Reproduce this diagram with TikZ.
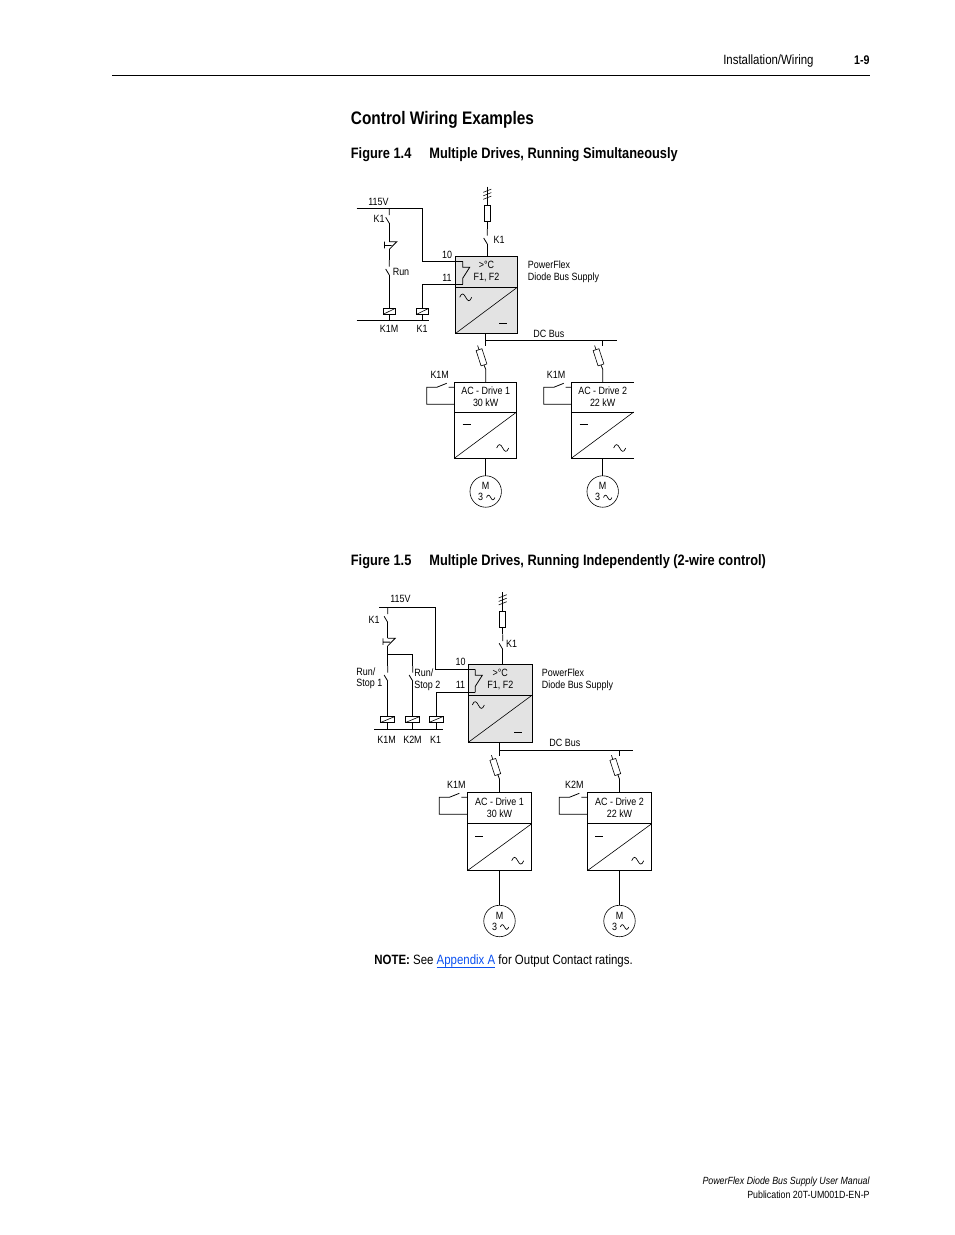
\documentclass[tikz,border=0pt]{standalone}
\usepackage{fontspec}
\setmainfont[FakeStretch=0.85]{Liberation Sans}
\usetikzlibrary{calc}
\definecolor{boxgrey}{gray}{0.89}
\definecolor{linkblue}{HTML}{0A50F0}

\tikzset{
	lab/.style={inner sep=0pt,font=\fontsize{7.9}{9}\selectfont,align=center},
	pagetxt/.style={inner sep=0pt,font=\fontsize{10.1}{12}\selectfont},
	capline/.style={inner sep=0pt,anchor=west,font=\fontsize{11.3}{13}\selectfont\bfseries},
	unitbox/.style={inner sep=0pt,outer sep=0pt,anchor=north west},
	fusebox/.style={draw,fill=white,inner sep=0pt,outer sep=0pt,line width=0.45pt,minimum width=4.6pt,minimum height=12pt},
	coilbox/.style={draw,fill=white,inner sep=0pt,outer sep=0pt,minimum width=9pt,minimum height=4.4pt},
	motor/.style={draw,circle,inner sep=0pt,outer sep=0pt,line width=0.45pt,minimum size=23.6pt},
	tilde/.pic={\draw[line width=0.5pt] (-6,0) .. controls (-4,-5) and (-2,-4) .. (0,0) .. controls (2,4) and (4,5) .. (6,0);},
	nocontact/.pic={\draw (0,0) -- (0,6.7) (-3.6,9) -- (0,15);},
	pushb/.pic={\draw (0,0) -- (7.5,0) -- (0,7.6) (-4.8,0) -- (-4.8,6.6) (-4.8,3.8) -- (2.4,3.8);},
}

\begin{document}
\begin{tikzpicture}[x=0.75pt,y=-0.75pt,line width=0.6pt]
	\useasboundingbox (0,0) rectangle (954,1235);

	% page text
	\coordinate (ruleL) at (112,75.5);
	\coordinate (ruleR) at (870,75.5);
	\draw[line width=0.9pt] (ruleL) -- (ruleR);
	\node (head) [pagetxt,anchor=east] at (814,61.5) {Installation/Wiring};
	\node (folio) [pagetxt,anchor=east,font=\fontsize{9.4}{11}\selectfont\bfseries] at (870,60.5) {1-9};
	\node (title) [capline,font=\fontsize{13.6}{16}\selectfont\bfseries] at (350.5,119.5) {Control Wiring Examples};
	\node (figA) [capline] at (350.5,155) {Figure 1.4};
	\node (figAtxt) [capline] at (429,155) {Multiple Drives, Running Simultaneously};
	\node (figB) [capline] at (350.5,561.7) {Figure 1.5};
	\node (figBtxt) [capline] at (429,561.7) {Multiple Drives, Running Independently (2-wire control)};
	\node (note) [pagetxt,anchor=west] at (374,961.5) {\textbf{NOTE:} See \textcolor{linkblue}{\underline{\smash{Appendix A}}} for Output Contact ratings.};
	\node (footA) [pagetxt,anchor=east,font=\fontsize{7.8}{9}\selectfont\itshape] at (870,1181.5) {PowerFlex Diode Bus Supply User Manual};
	\node (footB) [pagetxt,anchor=east,font=\fontsize{7.8}{9}\selectfont] at (870,1194.5) {Publication 20T-UM001D-EN-P};

	% diode bus supplies
	\foreach \nm/\xl/\bw/\ty/\bh/\lh/\fx/\iy/\uy/\ky in {
		s1/455.7/61.6/256.3/31/46/487.3/186.7/212.9/229,
		s2/468.3/64/664.3/30.7/47.3/502.7/592.3/619.5/634.3}{
		\node (\nm-top) [lab,unitbox,draw,fill=boxgrey,minimum width=\bw*0.75pt,minimum height=\bh*0.75pt] at (\xl,\ty) {>°C\\F1, F2};
		\node (\nm-conv) [unitbox,draw,fill=boxgrey,minimum width=\bw*0.75pt,minimum height=\lh*0.75pt] at (\nm-top.south west) {};
		\draw[line width=0.45pt] (\nm-conv.south west) -- (\nm-conv.north east);
		\pic at ($(\nm-conv.north west)+(10,10)$) {tilde};
		\draw ($(\nm-conv.south east)+(-18,-9.5)$) -- ++(8,0);
		\coordinate (\nm-in) at (\fx,\iy);
		\node (\nm-fu) [fusebox] at (\fx,\uy) {};
		\coordinate (\nm-kc) at (\fx,\ky);
		\coordinate (\nm-ke) at ($(\nm-kc)+(0,15)$);
		\draw (\nm-in) -- (\nm-fu) (\nm-fu) -- (\nm-kc) (\nm-ke) -- (\nm-ke |- \nm-top.north);
		\pic at (\nm-kc) {nocontact};
		\foreach \tk in {4,7.5,11}{
			\draw[line width=0.45pt] ($(\nm-in)+(-4,\tk+1.6)$) -- ++(8,-3.2);
		}
		\coordinate (\nm-10) at ($(\nm-top.north west)+(7,5)$);
		\coordinate (\nm-11) at ($(\nm-top.north west)+(7,28)$);
		\draw (\nm-10) -- ++(0,6) -- ++(7,0) -- ++(-7,11) -- (\nm-11);
	}

	% drives
	\foreach \nm/\xl/\bw/\ty/\bh/\lh/\by/\my/\dn/\kw/\kt/\kx in {
		a1/454.7/62/382.3/29.7/46/340.3/33.5/1/30/K1M/-15,
		a2/571.7/62/382.3/29.7/46/340.3/33.5/2/22/K1M/-15.7,
		b1/467.3/64.4/792.3/31.4/47/750/50.3/1/30/K1M/-11,
		b2/587.3/64.4/792.3/31.4/47/750/50.3/2/22/K2M/-13}{
		\node (\nm-top) [lab,unitbox,minimum width=\bw*0.75pt,minimum height=\bh*0.75pt] at (\xl,\ty) {AC - Drive \dn\\\kw{} kW};
		\node (\nm-conv) [unitbox,minimum width=\bw*0.75pt,minimum height=\lh*0.75pt] at (\nm-top.south west) {};
		\draw (\nm-top.north east) -- (\nm-top.north west) -- (\nm-conv.south west) -- (\nm-conv.south east);
		\draw (\nm-conv.north west) -- (\nm-conv.north east);
		\draw[line width=0.45pt] (\nm-conv.south west) -- (\nm-conv.north east);
		\draw ($(\nm-conv.north west)+(8,12.5)$) -- ++(8,0);
		\pic at ($(\nm-conv.south east)+(-14,-10)$) {tilde};
		% fuse from the bus
		\coordinate (\nm-bus) at (\nm-top.north |- 0,\by);
		\coordinate (\nm-joint) at ($(\nm-bus)+(0,29)$);
		\node (\nm-fu) [fusebox,rotate=18] at ($(\nm-joint)+(-4.2,-12)$) {};
		\draw (\nm-bus) -- ++(0,6);
		\draw[line width=0.45pt] (\nm-fu.north) -- ++(-1.4,-4.2);
		\draw (\nm-fu.south) -- (\nm-joint) -- (\nm-top.north);
		% run contact
		\node (\nm-kl) [lab] at ($(\nm-top.north west)+(\kx,-7)$) {\kt};
		\draw (\nm-top.north west) ++(0,5) -- ++(-6,0) ++(-2,-4) -- ++(-10,4) -- ++(-10,0) -- ++(0,17) -- ++(28,0);
		% motor
		\node (\nm-mot) [motor] at ($(\nm-conv.south)+(0,\my)$) {};
		\draw (\nm-conv.south) -- (\nm-mot);
		\node (\nm-mm) [lab] at ($(\nm-mot)+(0,-5.5)$) {M};
		\node (\nm-m3) [lab] at ($(\nm-mot)+(-5,5.5)$) {3};
		\pic[scale=0.7] at ($(\nm-mot)+(5,6)$) {tilde};
	}
	\foreach \nm in {a1,b1,b2}{
		\draw (\nm-top.north east) -- (\nm-conv.south east);
	}

	% dc bus
	\coordinate (s1-bus) at (485.7,340.3);
	\coordinate (s1-end) at (616.7,340.3);
	\coordinate (s2-bus) at (499.5,750);
	\coordinate (s2-end) at (632.7,750);
	\draw (s1-bus |- s1-conv.south) -- (s1-bus) -- (s1-end);
	\draw (s2-bus |- s2-conv.south) -- (s2-bus) -- (s2-end);

	% control wiring, figure 1.4
	\coordinate (a-l) at (356.7,208.3);
	\coordinate (a-r) at (422.7,208.3);
	\coordinate (a-c1) at (389.3,208.3);
	\coordinate (a-c1e) at (389.3,223.3);
	\coordinate (a-pb) at (389.3,241.7);
	\coordinate (a-pbe) at (389.3,249.3);
	\coordinate (a-c2) at (389.3,260);
	\coordinate (a-c2e) at (389.3,275);
	\coordinate (a-nl) at (356.7,320.3);
	\coordinate (a-nr) at (428.7,320.3);
	\node (a-km) [coilbox] at (389.3,311.3) {};
	\node (a-k) [coilbox] at (422.7,311.3) {};
	\draw (a-l) -- (a-r) |- (s1-10);
	\draw (s1-11) -| (a-k);
	\draw (a-nl) -- (a-nr);
	\pic at (a-c1) {nocontact};
	\pic at (a-pb) {pushb};
	\pic at (a-c2) {nocontact};
	\draw (a-c1e) -- (a-pb) (a-pbe) -- (a-c2) (a-c2e) -- (a-km);
	\foreach \cl in {a-km,a-k}{
		\draw (\cl) -- (\cl |- a-nl);
		\draw[line width=0.45pt] (\cl.south west) -- (\cl.north east);
	}

	% control wiring, figure 1.5
	\coordinate (b-l) at (379.3,607.3);
	\coordinate (b-r) at (435.7,607.3);
	\coordinate (b-c1) at (387.7,607.3);
	\coordinate (b-c1e) at (387.7,622.3);
	\coordinate (b-pb) at (387.7,638.3);
	\coordinate (b-pbe) at (387.7,646);
	\coordinate (b-j) at (387.7,654.3);
	\coordinate (b-c2) at (387.7,666);
	\coordinate (b-c2e) at (387.7,681);
	\coordinate (b-c3) at (412.7,666);
	\coordinate (b-c3e) at (412.7,681);
	\coordinate (b-nl) at (374.3,729.3);
	\coordinate (b-nr) at (442.7,729.3);
	\node (b-km) [coilbox,minimum width=10.5pt] at (387.7,719.5) {};
	\node (b-km2) [coilbox,minimum width=10.5pt] at (412.7,719.5) {};
	\node (b-k) [coilbox,minimum width=10.5pt] at (436,719.5) {};
	\draw (b-l) -- (b-r) |- (s2-10);
	\draw (s2-11) -| (b-k);
	\draw (b-nl) -- (b-nr);
	\pic at (b-c1) {nocontact};
	\pic at (b-pb) {pushb};
	\pic at (b-c2) {nocontact};
	\pic at (b-c3) {nocontact};
	\draw (b-c1e) -- (b-pb) (b-pbe) -- (b-c2) (b-c2e) -- (b-km);
	\draw (b-j) -| (b-c3) (b-c3e) -- (b-km2);
	\foreach \cl in {b-km,b-km2,b-k}{
		\draw (\cl) -- (\cl |- b-nl);
		\draw[line width=0.45pt] (\cl.south west) -- (\cl.north east);
	}

	% labels
	\foreach \nm/\lx/\ly/\txt in {
		v1/378.5/201.5/115V, k1/379/219/K1, run/401/271.5/Run, km1/389/328.5/K1M, kk1/422/328.5/K1,
		kf1/499/239.5/K1, t10/447/254.5/10, t11/447/277.5/11,
		v2/400.5/598.5/115V, k2/374/619.5/K1, km2/386.5/739.5/K1M, kn2/412.5/739.5/K2M, kk2/435.5/739.5/K1,
		kf2/511.5/643.5/K1, u10/460.5/661.5/10, u11/460.5/684.5/11}{
		\node (lab-\nm) [lab] at (\lx,\ly) {\txt};
	}
	\foreach \nm/\lx/\ly/\txt in {
		pf1/527.5/265/PowerFlex, ds1/527.5/277.5/Diode Bus Supply, dc1/533/333.5/DC Bus,
		pf2/541.5/672.5/PowerFlex, ds2/541.5/685.5/Diode Bus Supply, dc2/549/742.5/DC Bus,
		rs1/356/672/{Run/}, rt1/356/684/Stop 1, rs2/414/672.5/{Run/}, rt2/414/686/Stop 2}{
		\node (lab-\nm) [lab,anchor=west] at (\lx,\ly) {\txt};
	}
\end{tikzpicture}
\end{document}
